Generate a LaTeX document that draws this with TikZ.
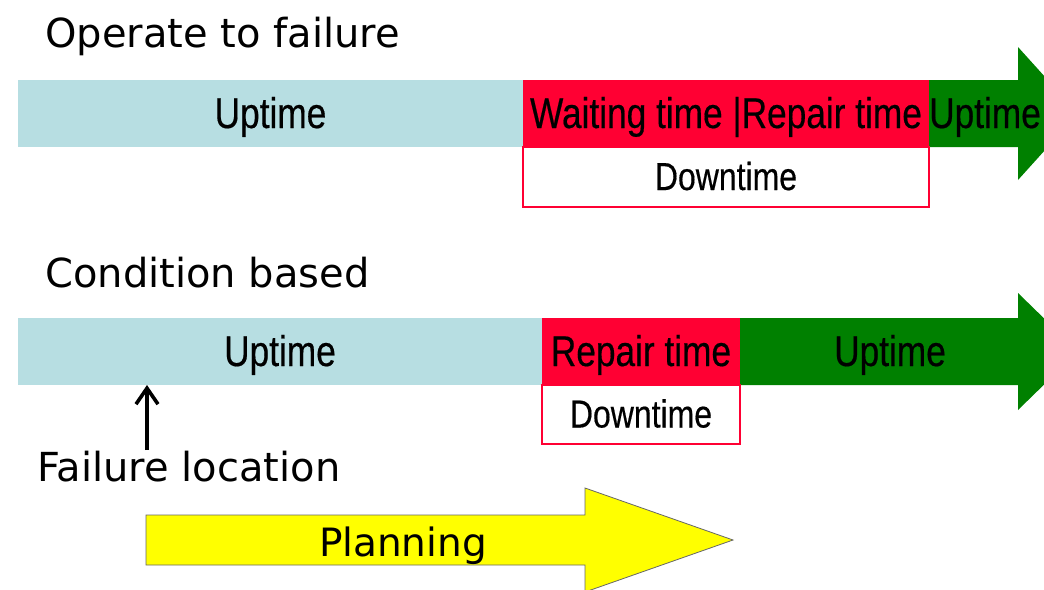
\documentclass[tikz,border=0pt]{standalone}
\usepackage{fontspec}
\setmainfont{DejaVu Sans}
\newfontfamily\barfont[FakeStretch=0.82,FakeBold=0.4]{Liberation Sans}
\usepackage{tikz}
\usepackage{xcolor}
\usetikzlibrary{arrows.meta}
\definecolor{upblue}{RGB}{183,222,226}
\definecolor{downred}{RGB}{255,0,51}
\definecolor{upgreen}{RGB}{0,128,0}
\definecolor{planyellow}{RGB}{255,255,0}
\tikzset{
    bar/.style = {rectangle, inner sep=0pt, outer sep=0pt, minimum height=33.5pt, text height=15.5pt, text depth=1pt, font=\barfont\fontsize{21.5}{25}\selectfont},
    uptime-bar/.style = {bar, fill=upblue},
    down-bar/.style = {bar, fill=downred},
    down-box/.style = {rectangle, draw=downred, line width=0.6pt, fill=white, inner sep=0pt, outer sep=0pt, text height=14pt, text depth=1pt, font=\barfont\fontsize{19.5}{23}\selectfont},
    title/.style = {anchor=base west, inner sep=0pt, font=\fontsize{20}{24}\selectfont},
    plan-arrow/.style = {fill=planyellow, draw=black!60, line width=0.4pt},
}

\begin{document}
\begin{tikzpicture}[x=0.5pt,y=-0.5pt]
\useasboundingbox (0,0) rectangle (1044,589);
\clip (0,0) rectangle (1044,589);

\node[title] (otf) at (45,47) {Operate to failure};
\node[uptime-bar, minimum width=252.5pt, anchor=north west] (up1) at (18,80) {Uptime};
\node[down-bar, minimum width=203pt, anchor=north west] (wait1) at (up1.north east) {Waiting time |Repair time};
\fill[upgreen] (wait1.north east) -- (1018,80) -- (1018,47) -- (1078,113.5) -- (1018,180) -- (1018,147) -- (wait1.south east) -- cycle;
\node[bar] (green1) at (985,113.5) {Uptime};
\node[down-box, minimum width=203pt, minimum height=30pt, anchor=north] (dt1) at (wait1.south) {Downtime};

\node[title] (cb) at (45,287) {Condition based};
\node[uptime-bar, minimum width=262pt, anchor=north west] (up2) at (18,318) {Uptime};
\node[down-bar, minimum width=99pt, anchor=north west] (rep2) at (up2.north east) {Repair time};
\fill[upgreen] (rep2.north east) -- (1018,318) -- (1018,293) -- (1078,351.5) -- (1018,410) -- (1018,385) -- (rep2.south east) -- cycle;
\node[bar] (green2) at (890,351.5) {Uptime};
\node[down-box, minimum width=99pt, minimum height=29.5pt, anchor=north] (dt2) at (rep2.south) {Downtime};

\node[title] (fail) at (37,481) {Failure location};
\coordinate (failpt) at (147,450);
\draw[line width=1.8pt, -{Straight Barb[length=8pt,width=11pt]}] (failpt) -- (failpt |- up2.south);

\draw[plan-arrow] (146,515) -- (585,515) -- (585,488) -- (733,540) -- (585,592) -- (585,565) -- (146,565) -- cycle;
\node[title, anchor=base, font=\fontsize{19.5}{23}\selectfont] (plan) at (403,556) {Planning};
\end{tikzpicture}
\end{document}
